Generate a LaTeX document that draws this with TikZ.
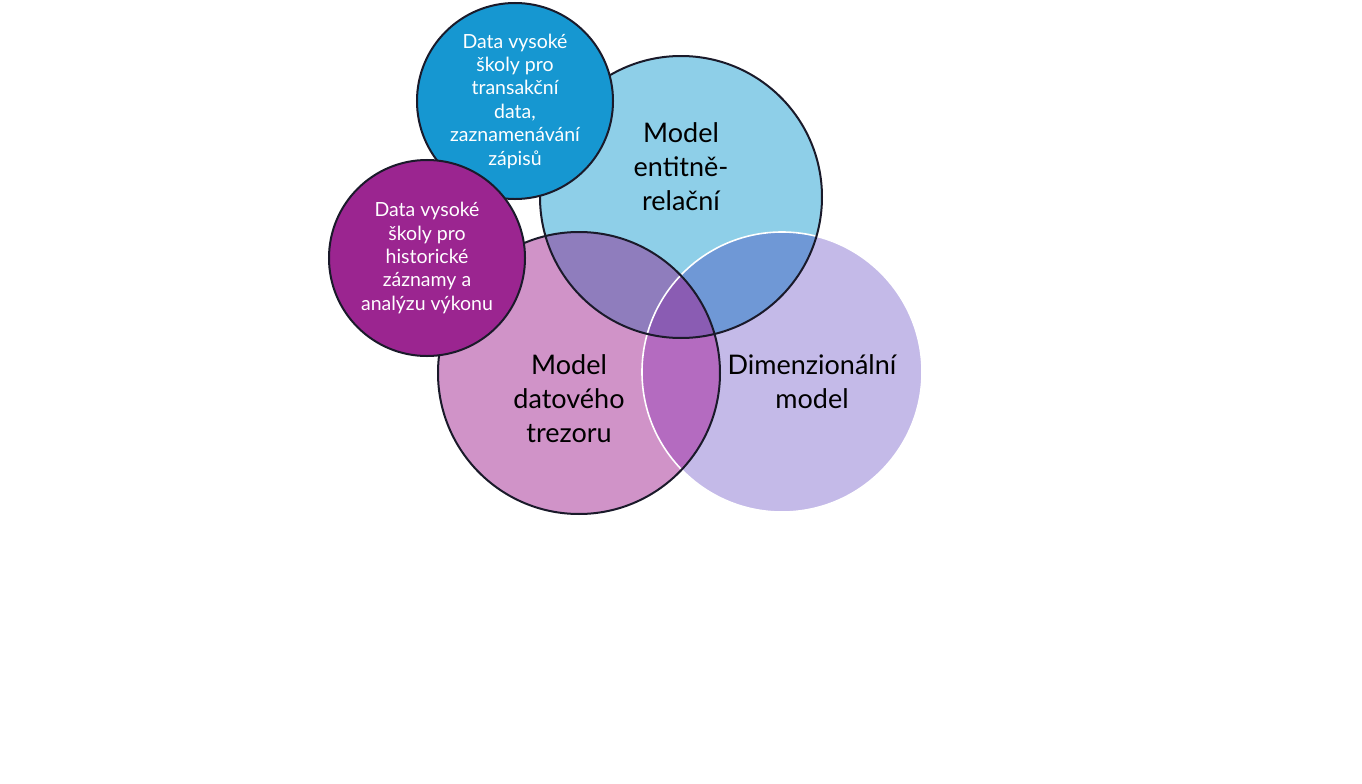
\documentclass[tikz,border=0pt]{standalone}
\usepackage{fontspec}
\setmainfont{Lato}
\pgfdeclarelayer{bg}
\pgfsetlayers{bg,main}
\definecolor{ercol}{HTML}{8ECFE8}
\definecolor{dvcol}{HTML}{D093C8}
\definecolor{dimcol}{HTML}{C4BAE8}
\definecolor{erdvcol}{HTML}{8F7DBD}
\definecolor{erdimcol}{HTML}{6F98D6}
\definecolor{dvdimcol}{HTML}{B46BC0}
\definecolor{allcol}{HTML}{8A5CB3}
\definecolor{trancol}{HTML}{1697D1}
\definecolor{histcol}{HTML}{9B2590}
\definecolor{rimcol}{HTML}{1A1A2A}
\tikzset{
    bigset/.style={circle, inner sep=0mm, minimum size=9.911cm},
    smallset/.style={circle, inner sep=0mm, minimum size=6.889cm, draw=rimcol, line width=2pt},
    setlabel/.style={align=center, text=black, font=\fontsize{27}{34}\selectfont},
    notelabel/.style={align=center, text=white, font=\fontsize{19.5}{23.4}\selectfont}
}

\begin{document}
\begin{tikzpicture}
        \useasboundingbox (0cm, 0cm) rectangle (47.869000cm, -27.554000cm);
        \node (er) [bigset] at (23.934400cm, -6.923700cm) {};
        \node (dv) [bigset] at (20.349500cm, -13.109400cm) {};
        \node (dim) [bigset, minimum size=9.841cm] at (27.484100cm, -13.074300cm) {};
        \begin{pgfonlayer}{bg}
                % plain sets
                \fill [ercol] (er.center) circle (4.9555cm);
                \fill [dvcol] (dv.center) circle (4.9555cm);
                \fill [dimcol] (dim.center) circle (4.9205cm);
                % overlaps
                \begin{scope}
                        \clip (er.center) circle (4.9555cm);
                        \fill [erdvcol] (dv.center) circle (4.9555cm);
                        \fill [erdimcol] (dim.center) circle (4.9205cm);
                        \clip (dv.center) circle (4.9555cm);
                        \fill [allcol] (dim.center) circle (4.9205cm);
                \end{scope}
                \begin{scope}
                        \clip (dv.center) circle (4.9555cm);
                        \clip (dim.center) circle (4.9205cm);
                        \fill [dvdimcol, even odd rule] (dim.center) circle (4.9205cm) (er.center) circle (4.9555cm);
                \end{scope}
                % rims
                \draw [white, line width=1.6pt] (dim.center) circle (4.9205cm);
                \draw [rimcol, line width=2pt] (er.center) circle (4.9555cm);
                \draw [rimcol, line width=2pt] (dv.center) circle (4.9555cm);
        \end{pgfonlayer}
        \node (tran) [smallset, fill=trancol] at (18.100100cm, -3.549700cm) {};
        \node (hist) [smallset, fill=histcol] at (15.007300cm, -9.067600cm) {};
        \node (ertext) [setlabel] at (23.934400cm, -5.869400cm) {Model\\entitně-\\relační};
        \node (dvtext) [setlabel] at (19.998000cm, -14.023200cm) {Model\\datového\\trezoru};
        \node (dimtext) [setlabel] at (28.538500cm, -13.425700cm) {Dimenzionální\\model};
        \node (trantext) [notelabel] at (tran.center) {Data vysoké\\školy pro\\transakční\\data,\\zaznamenávání\\zápisů};
        \node (histtext) [notelabel] at (hist.center) {Data vysoké\\školy pro\\historické\\záznamy a\\analýzu výkonu};
\end{tikzpicture}
\end{document}
